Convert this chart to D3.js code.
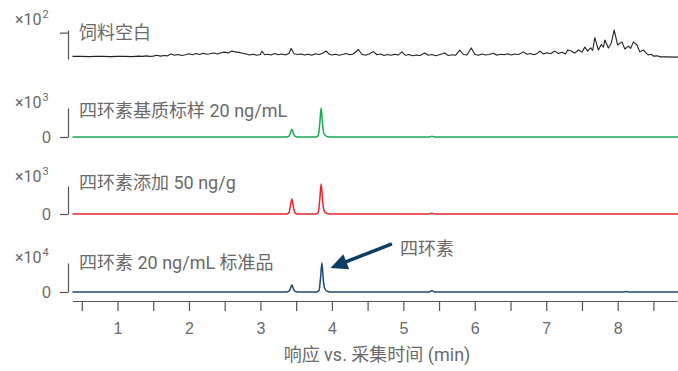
<!DOCTYPE html>
<html>
<head>
<meta charset="utf-8">
<script src="https://cdn.jsdelivr.net/npm/d3@7"></script>
<style>
  body { margin: 0; background: #fff; }
  svg { display: block; font-family: Roboto, "Noto Sans CJK SC", sans-serif; }
  .axis path, .axis line { stroke: #555; stroke-width: 1.2; }
  .axis text { fill: #6a6a6a; font-size: 16px; }
</style>
</head>
<body>
<div id="chart"></div>
<script>
// 色谱图：饲料空白 / 基质标样 / 添加样 / 标准品

const xTicks = [0.5, 1, 1.5, 2, 2.5, 3, 3.5, 4, 4.5, 5, 5.5, 6, 6.5, 7, 7.5, 8, 8.5];

const panelNames = ['饲料空白', '四环素基质标样 20 ng/mL', '四环素添加 50 ng/g', '四环素 20 ng/mL 标准品'];
const panelExponents = ['2', '3', '3', '4'];
const panelColors = ['#222222', '#1aa852', '#e8252b', '#1d4a70'];

// 饲料空白 (×10²)
const blankTrace = [
    [0.37,0.10],[0.5,0.10],[0.6,0.09],[0.7,0.10],[0.8,0.10],[0.9,0.09],[1.0,0.10],[1.1,0.10],[1.2,0.09],
    [1.3,0.11],[1.35,0.10],[1.4,0.12],[1.45,0.10],[1.5,0.11],[1.55,0.14],[1.6,0.11],[1.65,0.13],[1.7,0.12],
    [1.75,0.19],[1.8,0.14],[1.85,0.17],[1.9,0.13],[1.95,0.16],[2.0,0.20],[2.05,0.16],[2.1,0.21],[2.15,0.17],
    [2.2,0.22],[2.25,0.18],[2.3,0.20],[2.35,0.23],[2.4,0.19],[2.45,0.24],[2.5,0.26],[2.55,0.23],[2.6,0.30],
    [2.65,0.27],[2.7,0.25],[2.75,0.22],[2.8,0.19],[2.85,0.15],[2.9,0.18],[2.95,0.14],[3.0,0.17],[3.02,0.30],
    [3.06,0.16],[3.1,0.18],[3.15,0.15],[3.2,0.21],[3.25,0.16],[3.3,0.19],[3.35,0.15],[3.4,0.22],[3.43,0.40],
    [3.47,0.20],[3.52,0.17],[3.57,0.19],[3.62,0.15],[3.67,0.18],[3.72,0.14],[3.77,0.20],[3.82,0.17],[3.87,0.22],
    [3.92,0.30],[3.96,0.19],[4.0,0.15],[4.05,0.18],[4.1,0.14],[4.15,0.17],[4.2,0.21],[4.25,0.16],[4.3,0.19],
    [4.37,0.36],[4.42,0.18],[4.47,0.14],[4.52,0.19],[4.58,0.28],[4.63,0.16],[4.68,0.19],[4.73,0.13],[4.78,0.17],
    [4.83,0.14],[4.88,0.18],[4.93,0.15],[4.98,0.27],[5.03,0.14],[5.08,0.17],[5.13,0.12],[5.18,0.15],[5.23,0.13],
    [5.3,0.23],[5.35,0.14],[5.4,0.17],[5.45,0.12],[5.5,0.16],[5.58,0.23],[5.63,0.13],[5.68,0.16],[5.73,0.14],
    [5.79,0.34],[5.84,0.17],[5.89,0.15],[5.95,0.42],[6.0,0.18],[6.05,0.14],[6.1,0.19],[6.15,0.15],[6.2,0.17],
    [6.26,0.22],[6.31,0.14],[6.36,0.18],[6.41,0.16],[6.46,0.20],[6.51,0.15],[6.56,0.19],[6.61,0.17],[6.68,0.27],
    [6.73,0.18],[6.78,0.21],[6.83,0.16],[6.88,0.22],[6.91,0.30],[6.96,0.19],[7.01,0.24],[7.06,0.20],[7.12,0.30],
    [7.17,0.21],[7.22,0.26],[7.27,0.19],[7.3,0.34],[7.35,0.30],[7.4,0.22],[7.45,0.34],[7.5,0.26],[7.54,0.45],
    [7.58,0.30],[7.62,0.42],[7.65,0.33],[7.68,0.81],[7.73,0.34],[7.77,0.55],[7.8,0.45],[7.82,0.72],[7.87,0.42],
    [7.91,0.60],[7.95,1.10],[8.0,0.53],[8.03,0.60],[8.06,0.65],[8.1,0.38],[8.15,0.49],[8.18,0.40],[8.22,0.65],
    [8.27,0.53],[8.31,0.27],[8.36,0.34],[8.4,0.22],[8.43,0.15],[8.47,0.18],[8.5,0.11],[8.55,0.12],[8.6,0.08],
    [8.65,0.08],[8.85,0.07]
];

// 基质标样 (×10³)
const matrixTrace = [
    [0.37,0],[3.36,0],[3.40,0.03],[3.42,0.14],[3.44,0.27],[3.46,0.14],[3.48,0.03],[3.52,0],
    [3.78,0],[3.81,0.05],[3.83,0.45],[3.85,1.0],[3.87,0.42],[3.89,0.12],[3.92,0.03],[3.97,0],
    [5.36,0],[5.40,0.03],[5.44,0],[8.85,0]
];

// 添加样 (×10³)
const spikedTrace = [
    [0.37,0],[3.36,0],[3.40,0.05],[3.42,0.30],[3.44,0.54],[3.46,0.28],[3.48,0.05],[3.52,0],
    [3.78,0],[3.81,0.06],[3.83,0.50],[3.85,1.07],[3.87,0.46],[3.89,0.13],[3.92,0.03],[3.97,0],
    [5.36,0],[5.40,0.03],[5.44,0],[8.85,0]
];

// 标准品 (×10⁴)
const standardTrace = [
    [0.37,0],[3.36,0],[3.40,0.03],[3.42,0.13],[3.44,0.24],[3.46,0.12],[3.48,0.03],[3.52,0],
    [3.79,0],[3.82,0.05],[3.84,0.45],[3.86,1.0],[3.88,0.42],[3.90,0.12],[3.93,0.03],[3.98,0],
    [5.36,0],[5.40,0.04],[5.44,0],[8.08,0],[8.12,0.02],[8.16,0],[8.85,0]
];

const traces = [blankTrace, matrixTrace, spikedTrace, standardTrace];

const width = 678, height = 371;
const textColor = '#6a6a6a';
const svg = d3.select('#chart').append('svg')
    .attr('width', width)
    .attr('height', height);

const x = d3.scaleLinear().domain([0.37, 8.83]).range([72.5, 677]);

// 每个面板的纵向位置
const panels = [
    { bottom: 59, top: 30, max: 1.1, ticks: [1], label: false, nameY: 39, expY: 25 },
    { bottom: 137, top: 108, max: 1, ticks: [0], label: true, nameY: 117, expY: 108 },
    { bottom: 214, top: 186, max: 1, ticks: [0], label: true, nameY: 189, expY: 182 },
    { bottom: 292, top: 263, max: 1, ticks: [0], label: true, nameY: 269, expY: 263 }
];

panels.forEach((p, i) => {
    const y = d3.scaleLinear().domain([0, p.max]).range([p.bottom, p.top]);
    p.y = y;

    const axis = d3.axisLeft(y)
        .tickValues(p.ticks)
        .tickSize(8)
        .tickSizeOuter(0)
        .tickPadding(9)
        .tickFormat(p.label ? d3.format('d') : () => '');

    svg.append('g')
        .attr('class', 'axis')
        .attr('transform', 'translate(68,0)')
        .call(axis);

    // 倍数 ×10^n
    const exp = svg.append('text')
        .attr('x', 15)
        .attr('y', p.expY)
        .attr('fill', textColor)
        .attr('font-size', '16px');
    exp.append('tspan').text('×10');
    exp.append('tspan')
        .attr('font-size', '11px')
        .attr('dx', 1)
        .attr('dy', -7)
        .text(panelExponents[i]);

    svg.append('text')
        .attr('x', 79)
        .attr('y', p.nameY)
        .attr('fill', textColor)
        .attr('font-size', '18px')
        .text(panelNames[i]);

    const line = d3.line()
        .x(d => x(d[0]))
        .y(d => y(d[1]))
        .curve(i === 0 ? d3.curveLinear : d3.curveMonotoneX);

    svg.append('path')
        .datum(traces[i])
        .attr('fill', 'none')
        .attr('stroke', panelColors[i])
        .attr('stroke-width', i === 0 ? 1.1 : 1.5)
        .attr('stroke-linejoin', 'round')
        .attr('d', line);
});

// X 轴
const xAxis = d3.axisBottom(x)
    .tickValues(xTicks)
    .tickSize(10)
    .tickSizeOuter(0)
    .tickPadding(11.5)
    .tickFormat(d => Number.isInteger(d) ? d : '');

svg.append('g')
    .attr('class', 'axis')
    .attr('transform', 'translate(0,301)')
    .call(xAxis);

svg.append('text')
    .attr('x', 377)
    .attr('y', 361)
    .attr('text-anchor', 'middle')
    .attr('fill', textColor)
    .attr('font-size', '18px')
    .text('响应 vs. 采集时间 (min)');

// 箭头标注
const yStd = panels[3].y;
const tail = [x(4.84), yStd(1.66)];
const tip = [x(3.98), yStd(0.83)];
const dx = tip[0] - tail[0], dy = tip[1] - tail[1];
const len = Math.hypot(dx, dy);
const ux = dx / len, uy = dy / len;
const headLen = 17, headHalf = 8;
const base = [tip[0] - ux * headLen, tip[1] - uy * headLen];

svg.append('line')
    .attr('x1', tail[0]).attr('y1', tail[1])
    .attr('x2', base[0] + ux * 2).attr('y2', base[1] + uy * 2)
    .attr('stroke', '#0d3d63')
    .attr('stroke-width', 3.5);

svg.append('path')
    .attr('d', d3.line()([
        tip,
        [base[0] - uy * headHalf, base[1] + ux * headHalf],
        [base[0] + uy * headHalf, base[1] - ux * headHalf]
    ]) + 'Z')
    .attr('fill', '#0d3d63');

svg.append('text')
    .attr('x', x(4.84) + 8)
    .attr('y', 255)
    .attr('fill', textColor)
    .attr('font-size', '18px')
    .text('四环素');
</script>
</body>
</html>
